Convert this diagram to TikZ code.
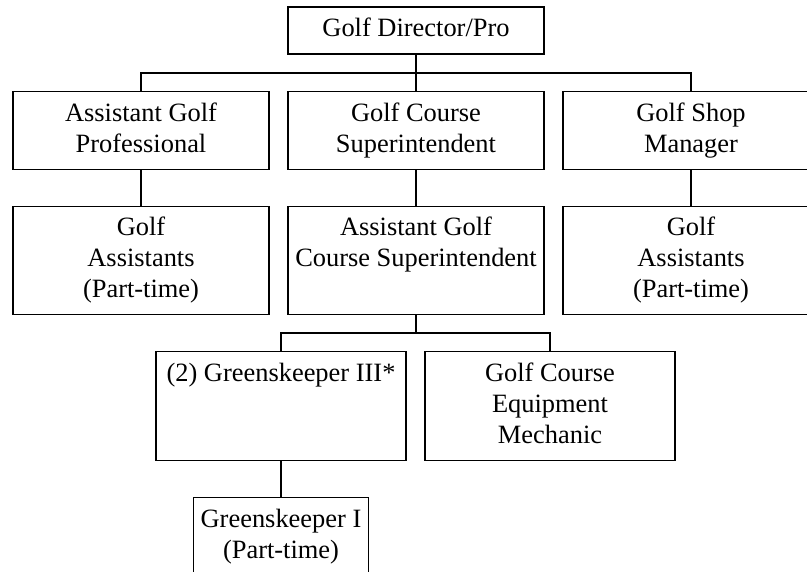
\documentclass[tikz,border=0pt]{standalone}
\usepackage{fontspec}
\setmainfont{Liberation Serif}
\usepackage{tikz}
\usetikzlibrary{calc}

\tikzset{
  unit/.style={draw, line width=0.035cm, align=center, inner xsep=0.1cm, inner ysep=5.6pt, minimum width=#1},
  unit/.default=6.4cm,
  link/.style={line width=0.035cm}
}

\begin{document}
\begin{tikzpicture}
                \useasboundingbox (0,0) rectangle (20.175000,14.275000);
                \clip (0,0) rectangle (20.175000,14.275000);
                {\fontsize{18.8}{22}\selectfont

                % Drawing box for the director
                \node[unit] (dir) at (10.400000,13.512500) {\strut Golf Director/Pro};

                % Drawing boxes of the second row
                \node[unit] (agp) at (3.525000,11.012500) {\strut Assistant Golf\\\strut Professional};
                \node[unit] (gcs) at (10.400000,11.012500) {\strut Golf Course\\\strut Superintendent};
                \node[unit] (gsm) at (17.275000,11.012500) {\strut Golf Shop\\\strut Manager};

                % Drawing boxes of the third row
                \node[unit] (ga1) at (3.525000,7.762500) {\strut Golf\\\strut Assistants\\\strut (Part-time)};
                \node[unit] (agcs) at (10.400000,7.762500) {\strut Assistant Golf\\\strut Course Superintendent\\\strut};
                \node[unit] (ga2) at (17.275000,7.762500) {\strut Golf\\\strut Assistants\\\strut (Part-time)};

                % Drawing boxes of the fourth row
                \node[unit=6.25cm] (gk3) at (7.025000,4.125000) {\strut (2) Greenskeeper III*\\\strut\\\strut};
                \node[unit=6.25cm] (mech) at (13.750000,4.125000) {\strut Golf Course\\\strut Equipment\\\strut Mechanic};

                % Drawing box of the last row
                \node[unit=4.375cm] (gk1) at (7.025000,0.862500) {\strut Greenskeeper I\\\strut (Part-time)};

                % Drawing lines from the director
                \coordinate (bus1) at (10.400000,12.450000);
                \draw [link] (dir.south) -- (bus1);%
                \draw [link] (agp.north) |- (bus1) -| (gsm.north);%
                \draw [link] (bus1) -- (gcs.north);%

                % Drawing lines to the third row
                \draw [link] (agp.south) -- (ga1.north);%
                \draw [link] (gcs.south) -- (agcs.north);%
                \draw [link] (gsm.south) -- (ga2.north);%

                % Drawing lines below the assistant superintendent
                \coordinate (bus2) at (10.400000,5.950000);
                \draw [link] (agcs.south) -- (bus2);%
                \draw [link] (gk3.north) |- (bus2) -| (mech.north);%

                % Drawing line to the part-time greenskeeper
                \draw [link] (gk3.south) -- (gk1.north);%
                }
            \end{tikzpicture}
\end{document}
